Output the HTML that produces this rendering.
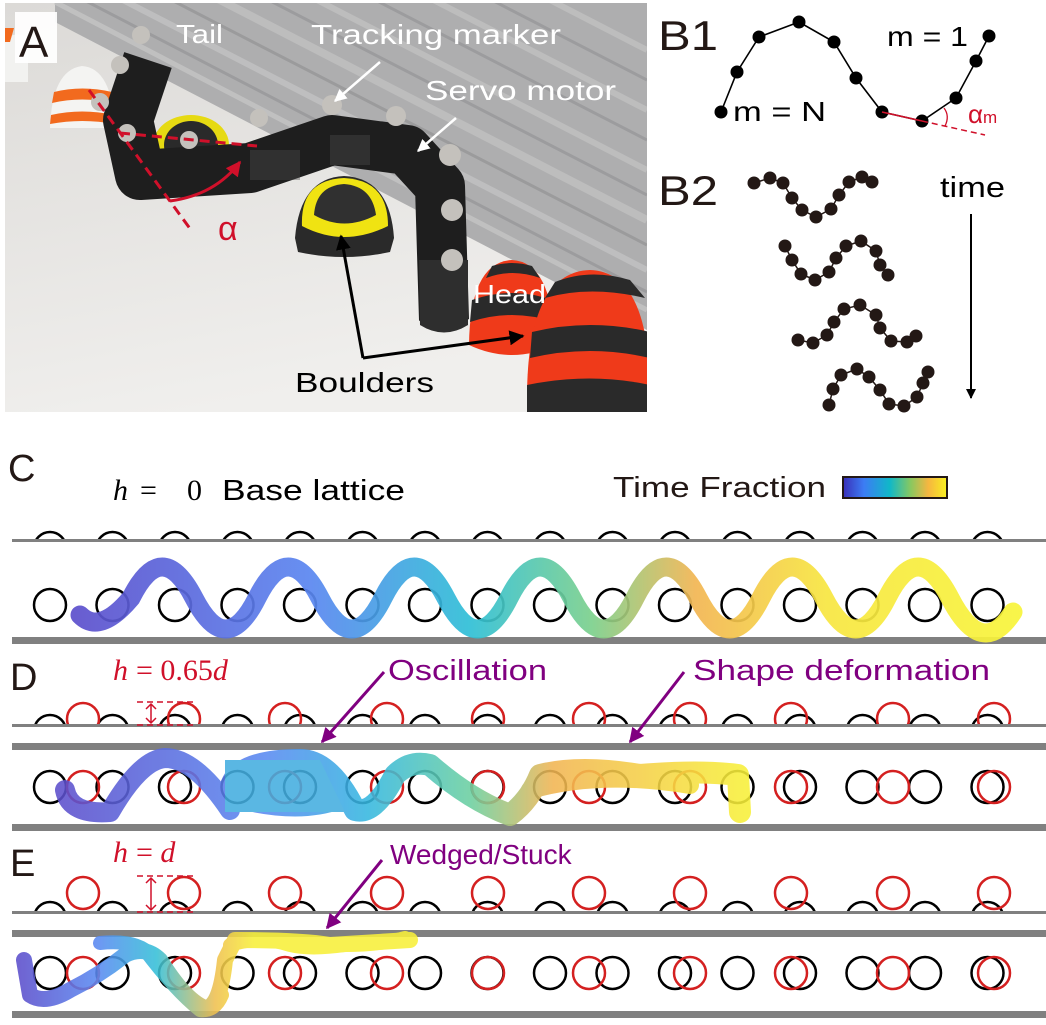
<!DOCTYPE html>
<html><head><meta charset="utf-8">
<style>
html,body{margin:0;padding:0;background:#fff;}
svg{display:block;}
.lbl{font-family:"Liberation Sans",Arial,sans-serif;fill:#231815;}
.ss{font-family:"Liberation Sans",Arial,sans-serif;}
.serif{font-family:"Liberation Serif","DejaVu Serif",serif;}
</style></head>
<body>
<svg width="1046" height="1025" viewBox="0 0 1046 1025" xmlns="http://www.w3.org/2000/svg">
<defs>
<clipPath id="photo"><rect x="5" y="3" width="642" height="409"/></clipPath>
<linearGradient id="floor" x1="0" y1="0" x2="0.3" y2="1">
<stop offset="0" stop-color="#dcdad7"/><stop offset="1" stop-color="#f0efed"/></linearGradient>
<linearGradient id="gC" gradientUnits="userSpaceOnUse" x1="75" y1="0" x2="1015" y2="0">
<stop offset="0" stop-color="#5c4fcc"/><stop offset="0.25" stop-color="#5a86f0"/><stop offset="0.42" stop-color="#2fbfd6"/><stop offset="0.55" stop-color="#7cd08c"/><stop offset="0.66" stop-color="#f2b552"/><stop offset="0.8" stop-color="#f7e640"/><stop offset="1" stop-color="#f8f43a"/></linearGradient>
<linearGradient id="gD" gradientUnits="userSpaceOnUse" x1="60" y1="0" x2="745" y2="0">
<stop offset="0" stop-color="#5c4fcc"/><stop offset="0.3" stop-color="#5a8af2"/><stop offset="0.45" stop-color="#35b8e0"/><stop offset="0.6" stop-color="#6cd0a0"/><stop offset="0.72" stop-color="#f2b552"/><stop offset="1" stop-color="#f8f03a"/></linearGradient>
<linearGradient id="gE" gradientUnits="userSpaceOnUse" x1="20" y1="0" x2="410" y2="0">
<stop offset="0" stop-color="#5c4fcc"/><stop offset="0.2" stop-color="#5a8af2"/><stop offset="0.35" stop-color="#35c0d8"/><stop offset="0.5" stop-color="#f0c050"/><stop offset="0.6" stop-color="#f8f03a"/><stop offset="1" stop-color="#f8f03a"/></linearGradient>
<linearGradient id="cbar" x1="0" y1="0" x2="1" y2="0">
<stop offset="0" stop-color="#3a2fb8"/><stop offset="0.2" stop-color="#3c7cf4"/><stop offset="0.45" stop-color="#10b8c8"/><stop offset="0.65" stop-color="#88c860"/><stop offset="0.82" stop-color="#f6b640"/><stop offset="1" stop-color="#f8f020"/></linearGradient>
<marker id="ah" viewBox="0 0 10 10" refX="9" refY="5" markerWidth="5" markerHeight="5" orient="auto"><path d="M0,0 L10,5 L0,10 z" fill="#000"/></marker>
<marker id="ahw" viewBox="0 0 10 10" refX="9" refY="5" markerWidth="5" markerHeight="5" orient="auto"><path d="M0,0 L10,5 L0,10 z" fill="#fff"/></marker>
<marker id="ahp" viewBox="0 0 10 10" refX="9" refY="5" markerWidth="5" markerHeight="5" orient="auto"><path d="M0,0 L10,5 L0,10 z" fill="#800080"/></marker>
<marker id="ahr" viewBox="0 0 10 10" refX="9" refY="5" markerWidth="5" markerHeight="5" orient="auto"><path d="M0,0 L10,5 L0,10 z" fill="#d0102a"/></marker>
<clipPath id="cTopC"><rect x="0" y="500" width="1046" height="40"/></clipPath>
<clipPath id="cTopD"><rect x="0" y="690" width="1046" height="35"/></clipPath>
<clipPath id="cTopE"><rect x="0" y="870" width="1046" height="42"/></clipPath>
</defs>

<!-- ===== Panel A photo ===== -->
<g clip-path="url(#photo)">
<rect x="5" y="3" width="642" height="409" fill="url(#floor)"/>
<polygon points="55,3 647,3 647,330 55,22" fill="#aeaeaf"/>
<g stroke-linecap="butt" opacity="0.7">
<line x1="55" y1="2" x2="647" y2="310" stroke="#c8c8c8" stroke-width="5"/>
<line x1="55" y1="-15" x2="647" y2="292" stroke="#959597" stroke-width="3"/>
<line x1="55" y1="-35" x2="647" y2="270" stroke="#c6c6c6" stroke-width="6"/>
<line x1="55" y1="-60" x2="647" y2="245" stroke="#939395" stroke-width="3"/>
<line x1="55" y1="-85" x2="647" y2="220" stroke="#c4c4c4" stroke-width="8"/>
<line x1="55" y1="-110" x2="647" y2="195" stroke="#959597" stroke-width="3"/>
<line x1="55" y1="-135" x2="647" y2="170" stroke="#c4c4c4" stroke-width="6"/>
<line x1="55" y1="-165" x2="647" y2="140" stroke="#959597" stroke-width="3"/>
<line x1="55" y1="-195" x2="647" y2="110" stroke="#c4c4c4" stroke-width="6"/>
<line x1="55" y1="-225" x2="647" y2="80" stroke="#959597" stroke-width="3"/>
<line x1="55" y1="-255" x2="647" y2="50" stroke="#c4c4c4" stroke-width="6"/>
</g>
<path d="M50,128 Q52,70 82,66 Q112,68 115,128 Z" fill="#f4f4f2"/>
<path d="M54,92 Q82,85 112,92 L113,103 Q82,96 52,103 Z" fill="#f26a1e"/>
<path d="M51,115 Q82,108 114,115 L115,124 Q82,118 50,124 Z" fill="#f26a1e"/>
<path d="M5,40 Q15,30 28,38 L28,82 L5,82Z" fill="#f2f2f0"/><path d="M5,28 L14,28 L10,42 L5,42Z" fill="#f26a1e"/>
<ellipse cx="191" cy="145" rx="38" ry="30" fill="#e6da12"/>
<ellipse cx="191" cy="145" rx="27" ry="24" fill="#2a2a2a"/>
<path d="M148,60 L128,120 L140,175 L250,168 L332,140 L407,150 L440,186 L444,320" fill="none" stroke="#1e1e1e" stroke-width="50" stroke-linejoin="round"/>
<path d="M419,260 L468,260 L468,325 Q444,340 420,325 Z" fill="#2e2e2e"/>
<g fill="#4a4a4a"><rect x="250" y="150" width="50" height="30" opacity="0.4"/><rect x="330" y="135" width="40" height="30" opacity="0.4"/></g>
<g fill="#c4c1bc">
<circle cx="141" cy="35" r="9"/><circle cx="120" cy="65" r="9"/><circle cx="100" cy="102" r="9"/><circle cx="127" cy="133" r="9"/><circle cx="189" cy="140" r="9"/><circle cx="259" cy="118" r="9"/><circle cx="332" cy="105" r="10"/><circle cx="396" cy="116" r="10"/><circle cx="450" cy="155" r="11"/><circle cx="452" cy="210" r="11"/><circle cx="452" cy="260" r="11"/>
</g>
<path d="M295,238 Q300,178 344,176 Q390,178 394,238 L390,252 Q344,262 298,252 Z" fill="#2a2a2a"/>
<path d="M302,226 Q300,180 344,178 Q388,180 388,226 Q344,248 302,226 Z" fill="#f0e312"/>
<path d="M314,215 Q316,186 344,184 Q372,186 376,215 Q344,232 314,215 Z" fill="#303030"/>
<path d="M469,345 Q470,262 512,260 Q552,262 555,345 Q512,365 469,345Z" fill="#ef3a1a"/>
<path d="M472,300 Q512,286 552,300 L554,322 Q512,308 470,322Z" fill="#2a2a2a"/>
<path d="M486,278 Q512,268 540,278 L532,266 Q512,260 492,266Z" fill="#2a2a2a"/>
<path d="M527,395 Q528,272 590,270 Q650,272 650,395 Q590,415 527,395Z" fill="#ef3a1a"/>
<path d="M532,332 Q590,318 650,332 L650,358 Q590,344 530,358Z" fill="#2a2a2a"/>
<path d="M545,298 Q590,285 645,298 L630,280 Q590,268 555,282Z" fill="#2a2a2a"/>
<path d="M527,385 Q590,372 650,385 L650,412 L527,412Z" fill="#2a2a2a"/>
<line x1="89" y1="90" x2="191" y2="230" stroke="#d0102a" stroke-width="3" stroke-dasharray="10,6"/>
<line x1="120" y1="133" x2="257" y2="146" stroke="#d0102a" stroke-width="3" stroke-dasharray="10,6"/>
<path d="M170,201 Q215,195 240,162" fill="none" stroke="#d0102a" stroke-width="3" marker-end="url(#ahr)"/>
<text x="218" y="240" fill="#d0102a" class="ss" font-size="34">α</text>
<rect x="15" y="12" width="42" height="51" fill="#fff" opacity="0.92"/>
<text x="19" y="57" class="lbl" font-size="44">A</text>
<text x="176" y="43" fill="#fff" class="ss" font-size="26" textLength="47" lengthAdjust="spacingAndGlyphs">Tail</text>
<text x="311" y="44" fill="#fff" class="ss" font-size="28" textLength="250" lengthAdjust="spacingAndGlyphs">Tracking marker</text>
<text x="425" y="100" fill="#fff" class="ss" font-size="28" textLength="191" lengthAdjust="spacingAndGlyphs">Servo motor</text>
<text x="473" y="303" fill="#fff" class="ss" font-size="26" textLength="73" lengthAdjust="spacingAndGlyphs">Head</text>
<line x1="380" y1="62" x2="335" y2="101" stroke="#fff" stroke-width="2.5" marker-end="url(#ahw)"/>
<line x1="456" y1="118" x2="418" y2="151" stroke="#fff" stroke-width="2.5" marker-end="url(#ahw)"/>
<polyline points="363,358 523,336" fill="none" stroke="#000" stroke-width="3" marker-end="url(#ah)"/>
<line x1="363" y1="358" x2="341" y2="236" stroke="#000" stroke-width="3" marker-end="url(#ah)"/>
<text x="295" y="392" fill="#000" class="ss" font-size="28" textLength="139" lengthAdjust="spacingAndGlyphs">Boulders</text>
</g>

<!-- ===== Panel B ===== -->
<text x="658" y="50" class="lbl" font-size="42" textLength="60" lengthAdjust="spacingAndGlyphs">B1</text>
<text x="658" y="205" class="lbl" font-size="42" textLength="60" lengthAdjust="spacingAndGlyphs">B2</text>
<polyline points="721,112 737,72 759,37 799,22 834,42 856,78 882,112 922,121 956,98 976,61 989,36" fill="none" stroke="#000" stroke-width="1.6"/>
<g fill="#000">
<circle cx="721" cy="112" r="6.5"/><circle cx="737" cy="72" r="6.5"/><circle cx="759" cy="37" r="6.5"/><circle cx="799" cy="22" r="6.5"/><circle cx="834" cy="42" r="6.5"/><circle cx="856" cy="78" r="6.5"/><circle cx="882" cy="112" r="6.5"/><circle cx="922" cy="121" r="6.5"/><circle cx="956" cy="98" r="6.5"/><circle cx="976" cy="61" r="6.5"/><circle cx="989" cy="36" r="6.5"/>
</g>
<line x1="882" y1="112" x2="922" y2="121" stroke="#d0102a" stroke-width="1.5"/>
<line x1="922" y1="121" x2="985" y2="135" stroke="#d0102a" stroke-width="1.5" stroke-dasharray="6,4"/>
<path d="M944,108 Q950,116 945,126" fill="none" stroke="#d0102a" stroke-width="1.3"/>
<text x="733" y="121" class="ss" font-size="28" fill="#000" textLength="93" lengthAdjust="spacingAndGlyphs">m = N</text>
<text x="887" y="46" class="ss" font-size="28" fill="#000" textLength="81" lengthAdjust="spacingAndGlyphs">m = 1</text>
<text x="968" y="123" class="ss" font-size="26" fill="#d0102a">α<tspan font-size="17">m</tspan></text>
<g fill="none" stroke="#231815" stroke-width="1.5">
<polyline points="754,183 770,178 783,183 792,198 802,210 816,217 831,209 839,195 849,182 862,177 872,182"/>
<polyline points="785,246 792,260 801,274 815,280 829,272 836,258 846,246 861,241 876,251 880,265 888,275"/>
<polyline points="798,340 813,343 827,335 834,322 844,309 860,305 876,315 880,328 891,341 907,342 916,336"/>
<polyline points="829,405 833,389 841,375 857,369 869,377 880,390 889,404 904,406 917,397 923,383 928,372"/>
</g>
<g fill="#231815">
<circle cx="754" cy="183" r="6.5"/><circle cx="770" cy="178" r="6.5"/><circle cx="783" cy="183" r="6.5"/><circle cx="792" cy="198" r="6.5"/><circle cx="802" cy="210" r="6.5"/><circle cx="816" cy="217" r="6.5"/><circle cx="831" cy="209" r="6.5"/><circle cx="839" cy="195" r="6.5"/><circle cx="849" cy="182" r="6.5"/><circle cx="862" cy="177" r="6.5"/><circle cx="872" cy="182" r="6.5"/>
<circle cx="785" cy="246" r="6.5"/><circle cx="792" cy="260" r="6.5"/><circle cx="801" cy="274" r="6.5"/><circle cx="815" cy="280" r="6.5"/><circle cx="829" cy="272" r="6.5"/><circle cx="836" cy="258" r="6.5"/><circle cx="846" cy="246" r="6.5"/><circle cx="861" cy="241" r="6.5"/><circle cx="876" cy="251" r="6.5"/><circle cx="880" cy="265" r="6.5"/><circle cx="888" cy="275" r="6.5"/>
<circle cx="798" cy="340" r="6.5"/><circle cx="813" cy="343" r="6.5"/><circle cx="827" cy="335" r="6.5"/><circle cx="834" cy="322" r="6.5"/><circle cx="844" cy="309" r="6.5"/><circle cx="860" cy="305" r="6.5"/><circle cx="876" cy="315" r="6.5"/><circle cx="880" cy="328" r="6.5"/><circle cx="891" cy="341" r="6.5"/><circle cx="907" cy="342" r="6.5"/><circle cx="916" cy="336" r="6.5"/>
<circle cx="829" cy="405" r="6.5"/><circle cx="833" cy="389" r="6.5"/><circle cx="841" cy="375" r="6.5"/><circle cx="857" cy="369" r="6.5"/><circle cx="869" cy="377" r="6.5"/><circle cx="880" cy="390" r="6.5"/><circle cx="889" cy="404" r="6.5"/><circle cx="904" cy="406" r="6.5"/><circle cx="917" cy="397" r="6.5"/><circle cx="923" cy="383" r="6.5"/><circle cx="928" cy="372" r="6.5"/>
</g>
<text x="940" y="197" class="ss" font-size="29" fill="#000" textLength="65" lengthAdjust="spacingAndGlyphs">time</text>
<line x1="971" y1="214" x2="971" y2="398" stroke="#000" stroke-width="2" marker-end="url(#ah)"/>

<!-- ===== Panel C ===== -->
<text x="8" y="481" class="lbl" font-size="38">C</text>
<text x="113" y="500" class="serif" font-size="30" font-style="italic" fill="#000">h</text>
<text x="140" y="500" class="serif" font-size="30" fill="#000">=</text>
<text x="187" y="500" class="serif" font-size="30" fill="#000">0</text>
<text x="222" y="500" class="ss" font-size="29" fill="#000" textLength="183" lengthAdjust="spacingAndGlyphs">Base lattice</text>
<text x="613" y="497" class="lbl" font-size="29" textLength="213" lengthAdjust="spacingAndGlyphs">Time Fraction</text>
<rect x="843" y="477" width="104" height="21" fill="url(#cbar)" stroke="#231815" stroke-width="2"/>
<g clip-path="url(#cTopC)" fill="none" stroke="#000" stroke-width="2.5">
<circle cx="50" cy="548" r="16"/><circle cx="112.5" cy="548" r="16"/><circle cx="175" cy="548" r="16"/><circle cx="237.5" cy="548" r="16"/><circle cx="300" cy="548" r="16"/><circle cx="362.5" cy="548" r="16"/><circle cx="425" cy="548" r="16"/><circle cx="487.5" cy="548" r="16"/><circle cx="550" cy="548" r="16"/><circle cx="612.5" cy="548" r="16"/><circle cx="675" cy="548" r="16"/><circle cx="737.5" cy="548" r="16"/><circle cx="800" cy="548" r="16"/><circle cx="862.5" cy="548" r="16"/><circle cx="925" cy="548" r="16"/><circle cx="987.5" cy="548" r="16"/>
</g>
<rect x="12" y="539" width="1034" height="3" fill="#808080"/>
<rect x="12" y="637" width="1034" height="7" fill="#808080"/>
<g fill="none" stroke="#000" stroke-width="2.5">
<circle cx="50" cy="605" r="16"/><circle cx="112.5" cy="605" r="16"/><circle cx="175" cy="605" r="16"/><circle cx="237.5" cy="605" r="16"/><circle cx="300" cy="605" r="16"/><circle cx="362.5" cy="605" r="16"/><circle cx="425" cy="605" r="16"/><circle cx="487.5" cy="605" r="16"/><circle cx="550" cy="605" r="16"/><circle cx="612.5" cy="605" r="16"/><circle cx="675" cy="605" r="16"/><circle cx="737.5" cy="605" r="16"/><circle cx="800" cy="605" r="16"/><circle cx="862.5" cy="605" r="16"/><circle cx="925" cy="605" r="16"/><circle cx="987.5" cy="605" r="16"/>
</g>
<path d="M80,615 Q100,635 131,598 Q162,536 194,598 T257,598 T320,598 T383,598 T446,598 T509,598 T572,598 T635,598 T698,598 T761,598 T824,598 T887,598 T950,598 T1013,612" fill="none" stroke="url(#gC)" stroke-width="19" stroke-linecap="round" opacity="0.92"/>

<!-- ===== Panel D ===== -->
<text x="10" y="690" class="lbl" font-size="38">D</text>
<text x="113" y="680" class="serif" font-size="30" font-style="italic" fill="#d0102a">h</text>
<text x="136" y="680" class="serif" font-size="30" fill="#d0102a">= 0.65<tspan font-style="italic">d</tspan></text>
<text x="388" y="680" class="ss" font-size="29" fill="#800080" textLength="159" lengthAdjust="spacingAndGlyphs">Oscillation</text>
<text x="693" y="680" class="ss" font-size="29" fill="#800080" textLength="297" lengthAdjust="spacingAndGlyphs">Shape deformation</text>
<g clip-path="url(#cTopD)" fill="none" stroke-width="2.5">
<g stroke="#000">
<circle cx="50" cy="731" r="16"/><circle cx="112.5" cy="731" r="16"/><circle cx="175" cy="731" r="16"/><circle cx="237.5" cy="731" r="16"/><circle cx="300" cy="731" r="16"/><circle cx="362.5" cy="731" r="16"/><circle cx="425" cy="731" r="16"/><circle cx="487.5" cy="731" r="16"/><circle cx="550" cy="731" r="16"/><circle cx="612.5" cy="731" r="16"/><circle cx="675" cy="731" r="16"/><circle cx="737.5" cy="731" r="16"/><circle cx="800" cy="731" r="16"/><circle cx="862.5" cy="731" r="16"/><circle cx="925" cy="731" r="16"/><circle cx="987.5" cy="731" r="16"/>
</g>
<g stroke="#d42020">
<circle cx="83" cy="719" r="16"/><circle cx="184" cy="719" r="16"/><circle cx="285" cy="719" r="16"/><circle cx="387" cy="719" r="16"/><circle cx="488" cy="719" r="16"/><circle cx="589" cy="719" r="16"/><circle cx="690" cy="719" r="16"/><circle cx="791" cy="719" r="16"/><circle cx="893" cy="719" r="16"/><circle cx="994" cy="719" r="16"/>
</g>
</g>
<rect x="12" y="724" width="1034" height="3" fill="#808080"/>
<rect x="12" y="743" width="1034" height="7" fill="#808080"/>
<rect x="12" y="824" width="1034" height="7" fill="#808080"/>
<g stroke="#d0102a" stroke-width="1.5">
<line x1="137" y1="702" x2="195" y2="702" stroke-dasharray="6,4"/>
<line x1="137" y1="725" x2="195" y2="725" stroke-dasharray="6,4"/>
<line x1="151" y1="704" x2="151" y2="723"/>
<path d="M146,709 L151,704 L156,709 M146,718 L151,723 L156,718" fill="none"/>
</g>
<g fill="none" stroke-width="2.5">
<g stroke="#000">
<circle cx="50" cy="787" r="16"/><circle cx="112.5" cy="787" r="16"/><circle cx="175" cy="787" r="16"/><circle cx="237.5" cy="787" r="16"/><circle cx="300" cy="787" r="16"/><circle cx="362.5" cy="787" r="16"/><circle cx="425" cy="787" r="16"/><circle cx="487.5" cy="787" r="16"/><circle cx="550" cy="787" r="16"/><circle cx="612.5" cy="787" r="16"/><circle cx="675" cy="787" r="16"/><circle cx="737.5" cy="787" r="16"/><circle cx="800" cy="787" r="16"/><circle cx="862.5" cy="787" r="16"/><circle cx="925" cy="787" r="16"/><circle cx="987.5" cy="787" r="16"/>
</g>
<g stroke="#d42020">
<circle cx="83" cy="787" r="16"/><circle cx="184" cy="787" r="16"/><circle cx="285" cy="787" r="16"/><circle cx="387" cy="787" r="16"/><circle cx="488" cy="787" r="16"/><circle cx="589" cy="787" r="16"/><circle cx="690" cy="787" r="16"/><circle cx="791" cy="787" r="16"/><circle cx="893" cy="787" r="16"/><circle cx="994" cy="787" r="16"/>
</g>
</g>
<g fill="none" stroke="url(#gD)" stroke-linecap="round" stroke-linejoin="round" opacity="0.88">
<path d="M65,790 Q70,815 110,812 Q140,760 165,758 Q195,758 230,810" stroke-width="20"/>
<path d="M230,790 Q235,760 300,760 Q330,760 355,810 Q375,815 395,775 Q410,760 430,765 Q470,800 510,815 Q530,800 540,775 Q580,765 640,775 Q700,770 738,775 L740,812" stroke-width="22"/>
<path d="M240,800 Q300,815 340,800 M530,790 Q600,770 690,785" stroke-width="18"/>
<path d="M225,760 L320,760 L345,812 L225,812 Z" stroke-width="6" fill="#44aee0" stroke="none"/>
</g>
<path d="M384,672 L322,742" stroke="#800080" stroke-width="3" marker-end="url(#ahp)"/>
<path d="M684,672 L630,742" stroke="#800080" stroke-width="3" marker-end="url(#ahp)"/>

<!-- ===== Panel E ===== -->
<text x="10" y="876" class="lbl" font-size="38">E</text>
<text x="113" y="862" class="serif" font-size="30" font-style="italic" fill="#d0102a">h</text>
<text x="136" y="862" class="serif" font-size="30" fill="#d0102a">= <tspan font-style="italic">d</tspan></text>
<text x="390" y="864" class="ss" font-size="28" fill="#800080">Wedged/Stuck</text>
<g clip-path="url(#cTopE)" fill="none" stroke="#000" stroke-width="2.5">
<circle cx="50" cy="918" r="16"/><circle cx="112.5" cy="918" r="16"/><circle cx="175" cy="918" r="16"/><circle cx="237.5" cy="918" r="16"/><circle cx="300" cy="918" r="16"/><circle cx="362.5" cy="918" r="16"/><circle cx="425" cy="918" r="16"/><circle cx="487.5" cy="918" r="16"/><circle cx="550" cy="918" r="16"/><circle cx="612.5" cy="918" r="16"/><circle cx="675" cy="918" r="16"/><circle cx="737.5" cy="918" r="16"/><circle cx="800" cy="918" r="16"/><circle cx="862.5" cy="918" r="16"/><circle cx="925" cy="918" r="16"/><circle cx="987.5" cy="918" r="16"/>
</g>
<g fill="none" stroke="#d42020" stroke-width="2.5">
<circle cx="83" cy="893" r="16"/><circle cx="184" cy="893" r="16"/><circle cx="285" cy="893" r="16"/><circle cx="387" cy="893" r="16"/><circle cx="488" cy="893" r="16"/><circle cx="589" cy="893" r="16"/><circle cx="690" cy="893" r="16"/><circle cx="791" cy="893" r="16"/><circle cx="893" cy="893" r="16"/><circle cx="994" cy="893" r="16"/>
</g>
<rect x="12" y="911" width="1034" height="3" fill="#808080"/>
<rect x="12" y="930" width="1034" height="7" fill="#808080"/>
<rect x="12" y="1011" width="1034" height="7" fill="#808080"/>
<g stroke="#d0102a" stroke-width="1.5">
<line x1="137" y1="876" x2="195" y2="876" stroke-dasharray="6,4"/>
<line x1="137" y1="912" x2="195" y2="912" stroke-dasharray="6,4"/>
<line x1="151" y1="878" x2="151" y2="910"/>
<path d="M146,883 L151,878 L156,883 M146,905 L151,910 L156,905" fill="none"/>
</g>
<g fill="none" stroke-width="2.5">
<g stroke="#000">
<circle cx="50" cy="973" r="16"/><circle cx="112.5" cy="973" r="16"/><circle cx="175" cy="973" r="16"/><circle cx="237.5" cy="973" r="16"/><circle cx="300" cy="973" r="16"/><circle cx="362.5" cy="973" r="16"/><circle cx="425" cy="973" r="16"/><circle cx="487.5" cy="973" r="16"/><circle cx="550" cy="973" r="16"/><circle cx="612.5" cy="973" r="16"/><circle cx="675" cy="973" r="16"/><circle cx="737.5" cy="973" r="16"/><circle cx="800" cy="973" r="16"/><circle cx="862.5" cy="973" r="16"/><circle cx="925" cy="973" r="16"/><circle cx="987.5" cy="973" r="16"/>
</g>
<g stroke="#d42020">
<circle cx="83" cy="973" r="16"/><circle cx="184" cy="973" r="16"/><circle cx="285" cy="973" r="16"/><circle cx="387" cy="973" r="16"/><circle cx="488" cy="973" r="16"/><circle cx="589" cy="973" r="16"/><circle cx="690" cy="973" r="16"/><circle cx="791" cy="973" r="16"/><circle cx="893" cy="973" r="16"/><circle cx="994" cy="973" r="16"/>
</g>
</g>
<g fill="none" stroke="url(#gE)" stroke-linecap="round" stroke-linejoin="round" opacity="0.88">
<path d="M24,960 L30,995 Q45,1005 70,990 Q100,975 125,955 Q145,945 160,960 Q185,1000 205,1008 Q220,1008 225,960 L235,940 Q300,940 330,945 Q380,942 410,940" stroke-width="16"/>
<path d="M100,943 Q130,940 145,950 Q175,990 200,1010 Q215,1012 222,995" stroke-width="14"/>
<path d="M230,945 Q260,935 290,945 Q310,950 345,945 Q380,945 405,938" stroke-width="14"/>
</g>
<path d="M382,860 L327,928" stroke="#800080" stroke-width="3" marker-end="url(#ahp)"/>
</svg>
</body></html>
